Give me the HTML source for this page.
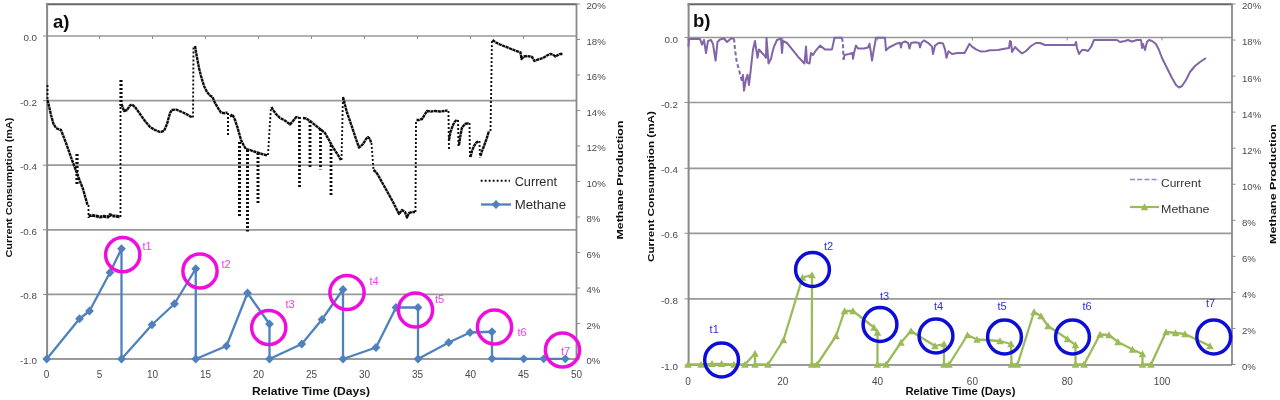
<!DOCTYPE html>
<html>
<head>
<meta charset="utf-8">
<title>Current consumption and methane production</title>
<style>
html, body { margin: 0; padding: 0; background: #ffffff; }
body { width: 1280px; height: 400px; overflow: hidden; font-family: "Liberation Sans", sans-serif; }
svg { display: block; }
svg text { font-family: "Liberation Sans", sans-serif; }
</style>
</head>
<body>
<svg width="1280" height="400" viewBox="0 0 1280 400">
<defs><filter id="soft" x="-2%" y="-2%" width="104%" height="104%"><feGaussianBlur stdDeviation="0.7"/></filter></defs>
<rect x="0" y="0" width="1280" height="400" fill="#ffffff"/>
<g filter="url(#soft)">
<line x1="46.50" y1="36.00" x2="576.50" y2="36.00" stroke="#989898" stroke-width="1.7"/>
<line x1="46.50" y1="100.60" x2="576.50" y2="100.60" stroke="#989898" stroke-width="1.7"/>
<line x1="46.50" y1="165.20" x2="576.50" y2="165.20" stroke="#989898" stroke-width="1.7"/>
<line x1="46.50" y1="229.80" x2="576.50" y2="229.80" stroke="#989898" stroke-width="1.7"/>
<line x1="46.50" y1="294.40" x2="576.50" y2="294.40" stroke="#989898" stroke-width="1.7"/>
<line x1="46.00" y1="4.20" x2="577.00" y2="4.20" stroke="#666" stroke-width="2.0"/>
<line x1="47.10" y1="4.00" x2="47.10" y2="359.00" stroke="#888" stroke-width="2.0"/>
<line x1="576.50" y1="4.00" x2="576.50" y2="359.00" stroke="#888" stroke-width="1.8"/>
<line x1="46.50" y1="359.00" x2="576.50" y2="359.00" stroke="#7a7a7a" stroke-width="1.6"/>
<line x1="46.50" y1="36.00" x2="46.50" y2="39.00" stroke="#8c8c8c" stroke-width="1"/>
<line x1="99.50" y1="36.00" x2="99.50" y2="39.00" stroke="#8c8c8c" stroke-width="1"/>
<line x1="152.50" y1="36.00" x2="152.50" y2="39.00" stroke="#8c8c8c" stroke-width="1"/>
<line x1="205.50" y1="36.00" x2="205.50" y2="39.00" stroke="#8c8c8c" stroke-width="1"/>
<line x1="258.50" y1="36.00" x2="258.50" y2="39.00" stroke="#8c8c8c" stroke-width="1"/>
<line x1="311.50" y1="36.00" x2="311.50" y2="39.00" stroke="#8c8c8c" stroke-width="1"/>
<line x1="364.50" y1="36.00" x2="364.50" y2="39.00" stroke="#8c8c8c" stroke-width="1"/>
<line x1="417.50" y1="36.00" x2="417.50" y2="39.00" stroke="#8c8c8c" stroke-width="1"/>
<line x1="470.50" y1="36.00" x2="470.50" y2="39.00" stroke="#8c8c8c" stroke-width="1"/>
<line x1="523.50" y1="36.00" x2="523.50" y2="39.00" stroke="#8c8c8c" stroke-width="1"/>
<line x1="576.50" y1="36.00" x2="576.50" y2="39.00" stroke="#8c8c8c" stroke-width="1"/>
<line x1="43.00" y1="36.00" x2="46.50" y2="36.00" stroke="#8c8c8c" stroke-width="1"/>
<text x="37.00" y="41.00" font-size="9.8" text-anchor="end" fill="#4a4a4a" font-weight="normal" >0.0</text>
<line x1="43.00" y1="100.60" x2="46.50" y2="100.60" stroke="#8c8c8c" stroke-width="1"/>
<text x="37.00" y="105.60" font-size="9.8" text-anchor="end" fill="#4a4a4a" font-weight="normal" >-0.2</text>
<line x1="43.00" y1="165.20" x2="46.50" y2="165.20" stroke="#8c8c8c" stroke-width="1"/>
<text x="37.00" y="170.20" font-size="9.8" text-anchor="end" fill="#4a4a4a" font-weight="normal" >-0.4</text>
<line x1="43.00" y1="229.80" x2="46.50" y2="229.80" stroke="#8c8c8c" stroke-width="1"/>
<text x="37.00" y="234.80" font-size="9.8" text-anchor="end" fill="#4a4a4a" font-weight="normal" >-0.6</text>
<line x1="43.00" y1="294.40" x2="46.50" y2="294.40" stroke="#8c8c8c" stroke-width="1"/>
<text x="37.00" y="299.40" font-size="9.8" text-anchor="end" fill="#4a4a4a" font-weight="normal" >-0.8</text>
<line x1="43.00" y1="359.00" x2="46.50" y2="359.00" stroke="#8c8c8c" stroke-width="1"/>
<text x="37.00" y="364.00" font-size="9.8" text-anchor="end" fill="#4a4a4a" font-weight="normal" >-1.0</text>
<line x1="576.50" y1="4.00" x2="580.00" y2="4.00" stroke="#8c8c8c" stroke-width="1"/>
<text x="586.50" y="8.80" font-size="9.6" text-anchor="start" fill="#4a4a4a" font-weight="normal" >20%</text>
<line x1="576.50" y1="39.50" x2="580.00" y2="39.50" stroke="#8c8c8c" stroke-width="1"/>
<text x="586.50" y="44.90" font-size="9.6" text-anchor="start" fill="#4a4a4a" font-weight="normal" >18%</text>
<line x1="576.50" y1="75.00" x2="580.00" y2="75.00" stroke="#8c8c8c" stroke-width="1"/>
<text x="586.50" y="80.40" font-size="9.6" text-anchor="start" fill="#4a4a4a" font-weight="normal" >16%</text>
<line x1="576.50" y1="110.50" x2="580.00" y2="110.50" stroke="#8c8c8c" stroke-width="1"/>
<text x="586.50" y="115.90" font-size="9.6" text-anchor="start" fill="#4a4a4a" font-weight="normal" >14%</text>
<line x1="576.50" y1="146.00" x2="580.00" y2="146.00" stroke="#8c8c8c" stroke-width="1"/>
<text x="586.50" y="151.40" font-size="9.6" text-anchor="start" fill="#4a4a4a" font-weight="normal" >12%</text>
<line x1="576.50" y1="181.50" x2="580.00" y2="181.50" stroke="#8c8c8c" stroke-width="1"/>
<text x="586.50" y="186.90" font-size="9.6" text-anchor="start" fill="#4a4a4a" font-weight="normal" >10%</text>
<line x1="576.50" y1="217.00" x2="580.00" y2="217.00" stroke="#8c8c8c" stroke-width="1"/>
<text x="586.50" y="222.40" font-size="9.6" text-anchor="start" fill="#4a4a4a" font-weight="normal" >8%</text>
<line x1="576.50" y1="252.50" x2="580.00" y2="252.50" stroke="#8c8c8c" stroke-width="1"/>
<text x="586.50" y="257.90" font-size="9.6" text-anchor="start" fill="#4a4a4a" font-weight="normal" >6%</text>
<line x1="576.50" y1="288.00" x2="580.00" y2="288.00" stroke="#8c8c8c" stroke-width="1"/>
<text x="586.50" y="293.40" font-size="9.6" text-anchor="start" fill="#4a4a4a" font-weight="normal" >4%</text>
<line x1="576.50" y1="323.50" x2="580.00" y2="323.50" stroke="#8c8c8c" stroke-width="1"/>
<text x="586.50" y="328.90" font-size="9.6" text-anchor="start" fill="#4a4a4a" font-weight="normal" >2%</text>
<line x1="576.50" y1="359.00" x2="580.00" y2="359.00" stroke="#8c8c8c" stroke-width="1"/>
<text x="586.50" y="364.40" font-size="9.6" text-anchor="start" fill="#4a4a4a" font-weight="normal" >0%</text>
<text x="46.50" y="378.00" font-size="10" text-anchor="middle" fill="#4a4a4a" font-weight="normal" >0</text>
<text x="99.50" y="378.00" font-size="10" text-anchor="middle" fill="#4a4a4a" font-weight="normal" >5</text>
<text x="152.50" y="378.00" font-size="10" text-anchor="middle" fill="#4a4a4a" font-weight="normal" >10</text>
<text x="205.50" y="378.00" font-size="10" text-anchor="middle" fill="#4a4a4a" font-weight="normal" >15</text>
<text x="258.50" y="378.00" font-size="10" text-anchor="middle" fill="#4a4a4a" font-weight="normal" >20</text>
<text x="311.50" y="378.00" font-size="10" text-anchor="middle" fill="#4a4a4a" font-weight="normal" >25</text>
<text x="364.50" y="378.00" font-size="10" text-anchor="middle" fill="#4a4a4a" font-weight="normal" >30</text>
<text x="417.50" y="378.00" font-size="10" text-anchor="middle" fill="#4a4a4a" font-weight="normal" >35</text>
<text x="470.50" y="378.00" font-size="10" text-anchor="middle" fill="#4a4a4a" font-weight="normal" >40</text>
<text x="523.50" y="378.00" font-size="10" text-anchor="middle" fill="#4a4a4a" font-weight="normal" >45</text>
<text x="576.50" y="378.00" font-size="10" text-anchor="middle" fill="#4a4a4a" font-weight="normal" >50</text>
<text x="311.00" y="395.00" font-size="11" text-anchor="middle" fill="#111" font-weight="bold" textLength="118" lengthAdjust="spacingAndGlyphs">Relative Time (Days)</text>
<text transform="translate(11.5,187.5) rotate(-90)" font-size="9.6" text-anchor="middle" fill="#111" font-weight="bold" textLength="140" lengthAdjust="spacingAndGlyphs">Current Consumption (mA)</text>
<text transform="translate(623.0,180) rotate(-90)" font-size="9.6" text-anchor="middle" fill="#111" font-weight="bold" textLength="119" lengthAdjust="spacingAndGlyphs">Methane Production</text>
<text x="53.00" y="27.60" font-size="18.5" text-anchor="start" fill="#111" font-weight="bold" >a)</text>
<polyline points="47.50,85.00 47.50,101.00" fill="none" stroke="#111" stroke-width="1.9" stroke-dasharray="1.9 2.1"/>
<polyline points="47.50,100.00 49.00,106.00 51.00,115.00 53.50,124.00 56.00,128.00 58.00,129.00 61.00,130.00 66.00,143.00 72.00,160.00 78.00,176.00 83.00,189.00 87.50,205.00" fill="none" stroke="#111" stroke-width="2.4" stroke-dasharray="3.2 0.5" stroke-linejoin="round"/>
<polyline points="88.50,205.00 88.50,218.00" fill="none" stroke="#111" stroke-width="1.9" stroke-dasharray="1.9 2.1"/>
<polyline points="77.00,154.00 77.00,184.00" fill="none" stroke="#111" stroke-width="3.2" stroke-dasharray="1.9 2.1"/>
<polyline points="88.50,216.00 92.00,215.30 96.00,216.00 100.00,217.00 104.00,216.30 108.00,217.00 110.00,214.50 112.00,216.00 116.00,216.00 120.00,217.00" fill="none" stroke="#111" stroke-width="3.0" stroke-dasharray="3.2 0.5" stroke-linejoin="round"/>
<polyline points="120.50,217.00 120.50,104.00" fill="none" stroke="#111" stroke-width="1.9" stroke-dasharray="1.9 2.1"/>
<polyline points="121.00,106.00 121.00,78.00" fill="none" stroke="#111" stroke-width="3.2" stroke-dasharray="1.9 2.1"/>
<polyline points="121.50,104.00 124.00,111.00 127.00,110.00 130.00,105.50 132.00,104.50 135.00,107.00 140.00,114.00 145.00,121.00 150.00,127.00 155.00,130.00 160.00,132.00 164.00,131.00 167.00,124.00 170.00,113.00 172.00,110.00 176.00,109.50 182.00,112.00 188.00,115.00 192.00,117.50" fill="none" stroke="#111" stroke-width="2.4" stroke-dasharray="3.2 0.5" stroke-linejoin="round"/>
<polyline points="193.00,117.50 193.50,46.00" fill="none" stroke="#111" stroke-width="1.9" stroke-dasharray="1.9 2.1"/>
<polyline points="195.00,46.00 196.00,52.00 197.50,60.00 199.00,68.00 201.00,76.00 204.00,86.00 207.00,92.00 210.00,95.50 212.50,97.00 215.00,103.00 218.00,108.00 221.00,112.50 224.00,113.20 227.50,112.50" fill="none" stroke="#111" stroke-width="2.4" stroke-dasharray="3.2 0.5" stroke-linejoin="round"/>
<polyline points="228.00,113.00 228.00,135.00" fill="none" stroke="#111" stroke-width="2.0" stroke-dasharray="1.9 2.1"/>
<polyline points="230.00,116.50 232.50,114.50 235.00,120.00 237.50,127.50 241.00,140.00 244.00,146.00 246.00,149.00 250.00,150.00 254.00,151.50 257.50,152.50 262.00,154.00 267.50,155.50" fill="none" stroke="#111" stroke-width="2.4" stroke-dasharray="3.2 0.5" stroke-linejoin="round"/>
<polyline points="239.50,142.00 239.50,217.50" fill="none" stroke="#111" stroke-width="3.0" stroke-dasharray="1.9 2.1"/>
<polyline points="247.50,150.00 247.50,231.50" fill="none" stroke="#111" stroke-width="3.0" stroke-dasharray="1.9 2.1"/>
<polyline points="258.00,153.00 258.00,204.50" fill="none" stroke="#111" stroke-width="3.0" stroke-dasharray="1.9 2.1"/>
<polyline points="268.00,155.00 271.00,107.00" fill="none" stroke="#111" stroke-width="1.9" stroke-dasharray="1.9 2.1"/>
<polyline points="271.50,107.00 273.00,110.00 276.00,114.00 280.00,118.00 284.00,120.00 287.00,122.00 290.00,124.50 293.00,121.00 296.00,117.30 298.50,117.00" fill="none" stroke="#111" stroke-width="2.4" stroke-dasharray="3.2 0.5" stroke-linejoin="round"/>
<polyline points="299.50,117.00 299.50,187.00" fill="none" stroke="#111" stroke-width="2.8" stroke-dasharray="1.9 2.1"/>
<polyline points="303.00,118.00 306.00,118.50 310.00,121.00 315.00,125.00 320.00,129.00 325.00,133.00 329.00,140.00 333.00,147.50 337.00,153.50 341.00,160.00" fill="none" stroke="#111" stroke-width="2.4" stroke-dasharray="3.2 0.5" stroke-linejoin="round"/>
<polyline points="310.00,121.00 310.00,167.00" fill="none" stroke="#111" stroke-width="2.8" stroke-dasharray="1.9 2.1"/>
<polyline points="320.50,129.00 320.50,169.50" fill="none" stroke="#111" stroke-width="2.8" stroke-dasharray="1.9 2.1"/>
<polyline points="331.00,145.00 331.00,195.00" fill="none" stroke="#111" stroke-width="2.8" stroke-dasharray="1.9 2.1"/>
<polyline points="341.50,160.00 343.00,97.00" fill="none" stroke="#111" stroke-width="1.9" stroke-dasharray="1.9 2.1"/>
<polyline points="343.00,97.00 345.00,105.00 347.00,112.50 350.00,121.00 353.00,130.00 356.00,139.00 359.00,147.50 361.00,146.00 363.00,144.00 366.00,139.00 368.00,137.00 370.00,139.00 371.00,142.50" fill="none" stroke="#111" stroke-width="2.4" stroke-dasharray="3.2 0.5" stroke-linejoin="round"/>
<polyline points="371.50,143.00 373.50,170.00" fill="none" stroke="#111" stroke-width="1.9" stroke-dasharray="1.9 2.1"/>
<polyline points="373.50,170.00 376.00,172.00 378.00,175.00 383.00,184.00 388.00,193.00 393.00,202.00 397.00,210.00 399.00,214.00 402.00,210.00 405.00,212.00 407.00,217.50 409.00,213.00 412.00,212.00 415.00,212.00" fill="none" stroke="#111" stroke-width="2.4" stroke-dasharray="3.2 0.5" stroke-linejoin="round"/>
<polyline points="415.50,212.00 416.00,120.00" fill="none" stroke="#111" stroke-width="1.9" stroke-dasharray="1.9 2.1"/>
<polyline points="416.50,120.00 419.00,120.00 422.00,119.00 424.50,115.00 427.00,111.00 431.00,111.50 435.00,111.00 440.00,111.50 444.00,111.00 447.50,110.50" fill="none" stroke="#111" stroke-width="2.4" stroke-dasharray="3.2 0.5" stroke-linejoin="round"/>
<polyline points="448.50,111.00 449.00,151.00" fill="none" stroke="#111" stroke-width="1.9" stroke-dasharray="1.9 2.1"/>
<polyline points="449.00,140.00 450.50,132.00 453.00,125.00 455.00,121.50 457.00,119.50" fill="none" stroke="#111" stroke-width="2.4" stroke-dasharray="3.2 0.5" stroke-linejoin="round"/>
<polyline points="458.00,120.00 458.50,146.00" fill="none" stroke="#111" stroke-width="1.9" stroke-dasharray="1.9 2.1"/>
<polyline points="459.00,145.00 460.50,135.00 462.00,127.50 465.00,124.00 469.00,123.00" fill="none" stroke="#111" stroke-width="2.4" stroke-dasharray="3.2 0.5" stroke-linejoin="round"/>
<polyline points="469.50,123.00 470.00,159.00" fill="none" stroke="#111" stroke-width="1.9" stroke-dasharray="1.9 2.1"/>
<polyline points="470.50,157.00 472.00,151.00 474.00,146.00 476.00,143.00 478.50,141.00" fill="none" stroke="#111" stroke-width="2.4" stroke-dasharray="3.2 0.5" stroke-linejoin="round"/>
<polyline points="479.50,141.00 480.00,157.50" fill="none" stroke="#111" stroke-width="1.9" stroke-dasharray="1.9 2.1"/>
<polyline points="480.50,156.00 482.00,151.00 484.00,146.00 486.50,139.00 489.00,131.00" fill="none" stroke="#111" stroke-width="2.4" stroke-dasharray="3.2 0.5" stroke-linejoin="round"/>
<polyline points="490.50,131.00 492.00,40.00" fill="none" stroke="#111" stroke-width="1.9" stroke-dasharray="1.9 2.1"/>
<polyline points="492.50,40.00 496.00,42.50 500.00,44.50 505.00,46.50 510.00,48.50 515.00,50.50 520.50,52.50 521.50,59.00 524.00,56.50 527.00,56.00 530.00,56.50 532.00,57.00 534.50,61.00 538.00,59.50 543.00,58.00 547.00,55.50 550.00,54.00 553.00,54.50 555.50,56.50 558.00,55.00 560.00,54.00 563.00,54.00" fill="none" stroke="#111" stroke-width="2.4" stroke-dasharray="3.2 0.5" stroke-linejoin="round"/>
<polyline points="46.75,359.00 79.50,318.75 89.50,311.00 110.00,272.50 121.50,248.75 121.50,359.00 152.00,324.75 174.50,303.75 195.75,268.75 195.75,359.00 226.50,346.00 247.50,293.00 269.50,324.00 269.50,359.00 301.75,344.00 322.00,319.50 343.00,289.50 343.00,359.00 376.00,347.50 396.00,307.50 418.00,307.50 418.00,359.00 448.75,342.50 470.00,332.50 492.00,331.75 492.00,358.60 523.75,358.80 543.75,358.80 565.30,358.80" fill="none" stroke="#4f81bd" stroke-width="2.3" stroke-linejoin="round"/>
<path d="M42.35,359.00 L46.75,354.60 L51.15,359.00 L46.75,363.40 Z" fill="#4f81bd"/>
<path d="M75.10,318.75 L79.50,314.35 L83.90,318.75 L79.50,323.15 Z" fill="#4f81bd"/>
<path d="M85.10,311.00 L89.50,306.60 L93.90,311.00 L89.50,315.40 Z" fill="#4f81bd"/>
<path d="M105.60,272.50 L110.00,268.10 L114.40,272.50 L110.00,276.90 Z" fill="#4f81bd"/>
<path d="M117.10,248.75 L121.50,244.35 L125.90,248.75 L121.50,253.15 Z" fill="#4f81bd"/>
<path d="M117.10,359.00 L121.50,354.60 L125.90,359.00 L121.50,363.40 Z" fill="#4f81bd"/>
<path d="M147.60,324.75 L152.00,320.35 L156.40,324.75 L152.00,329.15 Z" fill="#4f81bd"/>
<path d="M170.10,303.75 L174.50,299.35 L178.90,303.75 L174.50,308.15 Z" fill="#4f81bd"/>
<path d="M191.35,268.75 L195.75,264.35 L200.15,268.75 L195.75,273.15 Z" fill="#4f81bd"/>
<path d="M191.35,359.00 L195.75,354.60 L200.15,359.00 L195.75,363.40 Z" fill="#4f81bd"/>
<path d="M222.10,346.00 L226.50,341.60 L230.90,346.00 L226.50,350.40 Z" fill="#4f81bd"/>
<path d="M243.10,293.00 L247.50,288.60 L251.90,293.00 L247.50,297.40 Z" fill="#4f81bd"/>
<path d="M265.10,324.00 L269.50,319.60 L273.90,324.00 L269.50,328.40 Z" fill="#4f81bd"/>
<path d="M265.10,359.00 L269.50,354.60 L273.90,359.00 L269.50,363.40 Z" fill="#4f81bd"/>
<path d="M297.35,344.00 L301.75,339.60 L306.15,344.00 L301.75,348.40 Z" fill="#4f81bd"/>
<path d="M317.60,319.50 L322.00,315.10 L326.40,319.50 L322.00,323.90 Z" fill="#4f81bd"/>
<path d="M338.60,289.50 L343.00,285.10 L347.40,289.50 L343.00,293.90 Z" fill="#4f81bd"/>
<path d="M338.60,359.00 L343.00,354.60 L347.40,359.00 L343.00,363.40 Z" fill="#4f81bd"/>
<path d="M371.60,347.50 L376.00,343.10 L380.40,347.50 L376.00,351.90 Z" fill="#4f81bd"/>
<path d="M391.60,307.50 L396.00,303.10 L400.40,307.50 L396.00,311.90 Z" fill="#4f81bd"/>
<path d="M413.60,307.50 L418.00,303.10 L422.40,307.50 L418.00,311.90 Z" fill="#4f81bd"/>
<path d="M413.60,359.00 L418.00,354.60 L422.40,359.00 L418.00,363.40 Z" fill="#4f81bd"/>
<path d="M444.35,342.50 L448.75,338.10 L453.15,342.50 L448.75,346.90 Z" fill="#4f81bd"/>
<path d="M465.60,332.50 L470.00,328.10 L474.40,332.50 L470.00,336.90 Z" fill="#4f81bd"/>
<path d="M487.60,331.75 L492.00,327.35 L496.40,331.75 L492.00,336.15 Z" fill="#4f81bd"/>
<path d="M487.60,358.60 L492.00,354.20 L496.40,358.60 L492.00,363.00 Z" fill="#4f81bd"/>
<path d="M519.35,358.80 L523.75,354.40 L528.15,358.80 L523.75,363.20 Z" fill="#4f81bd"/>
<path d="M539.35,358.80 L543.75,354.40 L548.15,358.80 L543.75,363.20 Z" fill="#4f81bd"/>
<path d="M560.90,358.80 L565.30,354.40 L569.70,358.80 L565.30,363.20 Z" fill="#4f81bd"/>
<line x1="480.70" y1="180.80" x2="510.00" y2="180.80" stroke="#111" stroke-width="1.9" stroke-dasharray="1.9 2.1"/>
<text x="514.70" y="185.80" font-size="12" text-anchor="start" fill="#2a2a2a" font-weight="normal" textLength="42.3" lengthAdjust="spacingAndGlyphs">Current</text>
<line x1="481.00" y1="204.50" x2="511.00" y2="204.50" stroke="#4f81bd" stroke-width="2.3"/>
<path d="M491.6,204.5 L496,200.1 L500.4,204.5 L496,208.9 Z" fill="#4f81bd"/>
<text x="514.70" y="209.30" font-size="12" text-anchor="start" fill="#2a2a2a" font-weight="normal" textLength="51.3" lengthAdjust="spacingAndGlyphs">Methane</text>
<circle cx="122.75" cy="254.7" r="17.1" fill="none" stroke="#ee11dd" stroke-width="3.5"/>
<text x="142.50" y="250.00" font-size="11" text-anchor="start" fill="#f040e8" font-weight="normal" >t1</text>
<circle cx="200" cy="271" r="17.1" fill="none" stroke="#ee11dd" stroke-width="3.5"/>
<text x="221.50" y="267.50" font-size="11" text-anchor="start" fill="#f040e8" font-weight="normal" >t2</text>
<circle cx="268.75" cy="327.5" r="17.1" fill="none" stroke="#ee11dd" stroke-width="3.5"/>
<text x="285.50" y="307.50" font-size="11" text-anchor="start" fill="#f040e8" font-weight="normal" >t3</text>
<circle cx="347" cy="292.5" r="17.1" fill="none" stroke="#ee11dd" stroke-width="3.5"/>
<text x="369.50" y="285.00" font-size="11" text-anchor="start" fill="#f040e8" font-weight="normal" >t4</text>
<circle cx="415.5" cy="310" r="17.1" fill="none" stroke="#ee11dd" stroke-width="3.5"/>
<text x="435.00" y="302.50" font-size="11" text-anchor="start" fill="#f040e8" font-weight="normal" >t5</text>
<circle cx="494.5" cy="327" r="17.1" fill="none" stroke="#ee11dd" stroke-width="3.5"/>
<text x="517.50" y="336.00" font-size="11" text-anchor="start" fill="#f040e8" font-weight="normal" >t6</text>
<circle cx="562.5" cy="350" r="17.1" fill="none" stroke="#ee11dd" stroke-width="3.5"/>
<text x="561.00" y="354.50" font-size="11" text-anchor="start" fill="#f040e8" font-weight="normal" >t7</text>
<line x1="688.00" y1="37.50" x2="1232.00" y2="37.50" stroke="#989898" stroke-width="1.7"/>
<line x1="688.00" y1="102.50" x2="1232.00" y2="102.50" stroke="#989898" stroke-width="1.7"/>
<line x1="688.00" y1="168.30" x2="1232.00" y2="168.30" stroke="#989898" stroke-width="1.7"/>
<line x1="688.00" y1="233.30" x2="1232.00" y2="233.30" stroke="#989898" stroke-width="1.7"/>
<line x1="688.00" y1="298.90" x2="1232.00" y2="298.90" stroke="#989898" stroke-width="1.7"/>
<line x1="687.50" y1="4.20" x2="1232.50" y2="4.20" stroke="#666" stroke-width="2.0"/>
<line x1="688.60" y1="4.00" x2="688.60" y2="365.00" stroke="#888" stroke-width="2.0"/>
<line x1="1232.00" y1="4.00" x2="1232.00" y2="365.00" stroke="#888" stroke-width="1.8"/>
<line x1="688.00" y1="365.00" x2="1232.00" y2="365.00" stroke="#7a7a7a" stroke-width="1.6"/>
<line x1="688.00" y1="37.50" x2="688.00" y2="40.50" stroke="#8c8c8c" stroke-width="1"/>
<line x1="782.80" y1="37.50" x2="782.80" y2="40.50" stroke="#8c8c8c" stroke-width="1"/>
<line x1="877.60" y1="37.50" x2="877.60" y2="40.50" stroke="#8c8c8c" stroke-width="1"/>
<line x1="972.40" y1="37.50" x2="972.40" y2="40.50" stroke="#8c8c8c" stroke-width="1"/>
<line x1="1067.20" y1="37.50" x2="1067.20" y2="40.50" stroke="#8c8c8c" stroke-width="1"/>
<line x1="1162.00" y1="37.50" x2="1162.00" y2="40.50" stroke="#8c8c8c" stroke-width="1"/>
<line x1="684.50" y1="37.50" x2="688.00" y2="37.50" stroke="#8c8c8c" stroke-width="1"/>
<text x="678.00" y="42.50" font-size="9.8" text-anchor="end" fill="#4a4a4a" font-weight="normal" >0.0</text>
<line x1="684.50" y1="102.50" x2="688.00" y2="102.50" stroke="#8c8c8c" stroke-width="1"/>
<text x="678.00" y="107.50" font-size="9.8" text-anchor="end" fill="#4a4a4a" font-weight="normal" >-0.2</text>
<line x1="684.50" y1="168.30" x2="688.00" y2="168.30" stroke="#8c8c8c" stroke-width="1"/>
<text x="678.00" y="173.30" font-size="9.8" text-anchor="end" fill="#4a4a4a" font-weight="normal" >-0.4</text>
<line x1="684.50" y1="233.30" x2="688.00" y2="233.30" stroke="#8c8c8c" stroke-width="1"/>
<text x="678.00" y="238.30" font-size="9.8" text-anchor="end" fill="#4a4a4a" font-weight="normal" >-0.6</text>
<line x1="684.50" y1="298.90" x2="688.00" y2="298.90" stroke="#8c8c8c" stroke-width="1"/>
<text x="678.00" y="303.90" font-size="9.8" text-anchor="end" fill="#4a4a4a" font-weight="normal" >-0.8</text>
<line x1="684.50" y1="365.00" x2="688.00" y2="365.00" stroke="#8c8c8c" stroke-width="1"/>
<text x="678.00" y="370.00" font-size="9.8" text-anchor="end" fill="#4a4a4a" font-weight="normal" >-1.0</text>
<line x1="1232.00" y1="4.00" x2="1235.50" y2="4.00" stroke="#8c8c8c" stroke-width="1"/>
<text x="1242.00" y="8.80" font-size="9.6" text-anchor="start" fill="#4a4a4a" font-weight="normal" >20%</text>
<line x1="1232.00" y1="40.05" x2="1235.50" y2="40.05" stroke="#8c8c8c" stroke-width="1"/>
<text x="1242.00" y="45.45" font-size="9.6" text-anchor="start" fill="#4a4a4a" font-weight="normal" >18%</text>
<line x1="1232.00" y1="76.10" x2="1235.50" y2="76.10" stroke="#8c8c8c" stroke-width="1"/>
<text x="1242.00" y="81.50" font-size="9.6" text-anchor="start" fill="#4a4a4a" font-weight="normal" >16%</text>
<line x1="1232.00" y1="112.15" x2="1235.50" y2="112.15" stroke="#8c8c8c" stroke-width="1"/>
<text x="1242.00" y="117.55" font-size="9.6" text-anchor="start" fill="#4a4a4a" font-weight="normal" >14%</text>
<line x1="1232.00" y1="148.20" x2="1235.50" y2="148.20" stroke="#8c8c8c" stroke-width="1"/>
<text x="1242.00" y="153.60" font-size="9.6" text-anchor="start" fill="#4a4a4a" font-weight="normal" >12%</text>
<line x1="1232.00" y1="184.25" x2="1235.50" y2="184.25" stroke="#8c8c8c" stroke-width="1"/>
<text x="1242.00" y="189.65" font-size="9.6" text-anchor="start" fill="#4a4a4a" font-weight="normal" >10%</text>
<line x1="1232.00" y1="220.30" x2="1235.50" y2="220.30" stroke="#8c8c8c" stroke-width="1"/>
<text x="1242.00" y="225.70" font-size="9.6" text-anchor="start" fill="#4a4a4a" font-weight="normal" >8%</text>
<line x1="1232.00" y1="256.35" x2="1235.50" y2="256.35" stroke="#8c8c8c" stroke-width="1"/>
<text x="1242.00" y="261.75" font-size="9.6" text-anchor="start" fill="#4a4a4a" font-weight="normal" >6%</text>
<line x1="1232.00" y1="292.40" x2="1235.50" y2="292.40" stroke="#8c8c8c" stroke-width="1"/>
<text x="1242.00" y="297.80" font-size="9.6" text-anchor="start" fill="#4a4a4a" font-weight="normal" >4%</text>
<line x1="1232.00" y1="328.45" x2="1235.50" y2="328.45" stroke="#8c8c8c" stroke-width="1"/>
<text x="1242.00" y="333.85" font-size="9.6" text-anchor="start" fill="#4a4a4a" font-weight="normal" >2%</text>
<line x1="1232.00" y1="364.50" x2="1235.50" y2="364.50" stroke="#8c8c8c" stroke-width="1"/>
<text x="1242.00" y="369.90" font-size="9.6" text-anchor="start" fill="#4a4a4a" font-weight="normal" >0%</text>
<text x="688.00" y="384.50" font-size="10" text-anchor="middle" fill="#4a4a4a" font-weight="normal" >0</text>
<text x="782.80" y="384.50" font-size="10" text-anchor="middle" fill="#4a4a4a" font-weight="normal" >20</text>
<text x="877.60" y="384.50" font-size="10" text-anchor="middle" fill="#4a4a4a" font-weight="normal" >40</text>
<text x="972.40" y="384.50" font-size="10" text-anchor="middle" fill="#4a4a4a" font-weight="normal" >60</text>
<text x="1067.20" y="384.50" font-size="10" text-anchor="middle" fill="#4a4a4a" font-weight="normal" >80</text>
<text x="1162.00" y="384.50" font-size="10" text-anchor="middle" fill="#4a4a4a" font-weight="normal" >100</text>
<text x="960.40" y="394.80" font-size="10.5" text-anchor="middle" fill="#111" font-weight="bold" textLength="110" lengthAdjust="spacingAndGlyphs">Relative Time (Days)</text>
<text transform="translate(653.5,186.5) rotate(-90)" font-size="9.6" text-anchor="middle" fill="#111" font-weight="bold" textLength="151" lengthAdjust="spacingAndGlyphs">Current Consumption (mA)</text>
<text transform="translate(1275.8,184) rotate(-90)" font-size="9.6" text-anchor="middle" fill="#111" font-weight="bold" textLength="120" lengthAdjust="spacingAndGlyphs">Methane Production</text>
<text x="693.00" y="27.20" font-size="18.5" text-anchor="start" fill="#111" font-weight="bold" >b)</text>
<polyline points="688.40,46.60 689.00,39.00 700.00,39.00 702.00,44.70 704.00,40.00 706.00,53.00 708.00,41.00 711.00,40.00 713.00,44.00 715.60,60.60 717.50,42.00 720.00,39.50 724.00,38.50 727.00,42.00 731.00,38.50 734.00,38.50" fill="none" stroke="#8165a6" stroke-width="2.0" stroke-linejoin="round"/>
<polyline points="742.00,81.00 743.00,75.00 744.00,90.70 746.00,79.40 747.50,74.70 749.00,85.00 750.50,72.00 753.00,49.40 755.00,41.00 757.50,57.80 759.00,49.40 762.00,53.00 764.00,55.00 766.00,57.80 766.50,38.00 767.50,50.00 768.50,63.50 771.00,58.80 772.00,54.00 774.00,46.60 777.00,40.00 781.00,38.50 782.00,53.00 783.00,41.00 787.00,43.00 793.00,50.30 799.00,57.80 804.50,63.50 806.00,46.60 807.00,62.50 809.50,63.50 811.00,53.00 813.00,55.00 816.00,50.30 820.00,45.60 825.00,49.40 832.00,49.40 834.50,37.80 842.00,37.80" fill="none" stroke="#8165a6" stroke-width="2.0" stroke-linejoin="round"/>
<polyline points="843.50,59.70 844.50,55.00 849.00,54.00 852.50,53.00 853.00,58.80 854.00,53.00 856.00,45.60 858.00,48.50 864.00,48.50 868.00,47.50 869.50,43.80 871.00,53.00 872.00,60.60 873.50,51.30 876.00,37.80 885.00,37.80 886.00,50.30 889.00,47.50 896.00,43.80 900.00,42.80 901.00,47.50 902.00,42.80 905.00,41.50 908.00,42.80 909.50,48.50 911.00,43.00 915.00,42.30 919.00,43.00 920.00,47.50 921.50,42.80 924.00,40.40 928.00,42.80 932.00,46.60 933.00,54.00 935.00,45.60 939.00,42.80 943.00,43.40 945.00,49.40 946.50,57.80 948.50,51.30 952.00,54.00 957.50,53.00 964.50,53.00 967.00,48.50 969.50,43.80 972.00,46.60 976.00,49.40 981.00,51.60 986.00,51.30 990.00,50.30 998.00,50.00 1003.00,49.00 1009.00,48.00 1010.00,41.00 1011.00,42.00 1012.00,52.00 1015.00,47.00 1018.00,50.00 1022.00,53.50 1026.00,51.00 1031.00,46.00 1036.00,43.00 1040.00,43.00 1045.00,45.00 1075.00,45.00 1076.00,42.00 1077.00,48.00 1079.00,54.00 1082.00,50.00 1085.00,50.00 1088.00,51.00 1091.00,47.00 1094.00,40.00 1100.00,40.00 1117.00,40.00 1120.00,42.00 1125.00,41.00 1128.00,40.00 1132.00,41.50 1137.00,40.00 1141.00,40.00 1142.00,48.00 1143.00,44.00 1145.00,50.00 1147.00,42.00 1149.00,40.00 1152.00,41.00 1156.00,44.00 1159.00,50.00 1162.00,58.00 1167.00,68.00 1172.00,78.00 1176.00,85.00 1179.00,87.50 1182.00,86.00 1186.00,80.00 1190.00,72.00 1195.00,66.00 1200.00,62.00 1206.00,58.00" fill="none" stroke="#8165a6" stroke-width="2.0" stroke-linejoin="round"/>
<polyline points="734.00,38.50 735.00,49.40 736.50,60.60 739.00,70.00 741.00,77.50 742.00,81.00" fill="none" stroke="#8165a6" stroke-width="2.0" stroke-dasharray="4 2.5"/>
<polyline points="842.00,37.80 843.00,43.80 843.50,59.70" fill="none" stroke="#8165a6" stroke-width="2.0" stroke-dasharray="4 2.5"/>
<polyline points="688.00,364.50 701.00,364.50 712.00,363.80 721.60,363.80 734.00,364.50 745.00,364.50 755.00,353.50 755.00,364.50 768.00,364.50 783.50,340.00 802.50,277.50 812.00,275.00 811.80,364.50 817.00,364.50 836.00,336.00 844.50,311.00 853.00,311.00 874.00,327.50 877.50,332.50 877.50,364.50 886.00,364.50 901.00,342.50 911.00,331.00 935.00,346.00 944.00,344.00 944.00,364.50 949.00,364.50 967.50,335.00 977.00,339.50 1000.00,341.00 1011.00,344.00 1011.50,364.50 1017.50,364.50 1034.00,312.00 1041.00,316.00 1048.00,326.00 1067.50,339.00 1075.50,345.00 1075.50,364.50 1084.00,364.50 1100.00,334.50 1109.00,335.00 1118.00,342.00 1132.50,349.50 1142.50,354.00 1142.50,364.50 1151.00,364.50 1166.00,332.00 1175.50,333.00 1185.00,334.00 1210.00,346.00" fill="none" stroke="#9bbb59" stroke-width="2.3" stroke-linejoin="round"/>
<path d="M684.20,367.70 L688.00,360.70 L691.80,367.70 Z" fill="#9bbb59"/>
<path d="M697.20,367.70 L701.00,360.70 L704.80,367.70 Z" fill="#9bbb59"/>
<path d="M708.20,367.00 L712.00,360.00 L715.80,367.00 Z" fill="#9bbb59"/>
<path d="M717.80,367.00 L721.60,360.00 L725.40,367.00 Z" fill="#9bbb59"/>
<path d="M730.20,367.70 L734.00,360.70 L737.80,367.70 Z" fill="#9bbb59"/>
<path d="M741.20,367.70 L745.00,360.70 L748.80,367.70 Z" fill="#9bbb59"/>
<path d="M751.20,356.70 L755.00,349.70 L758.80,356.70 Z" fill="#9bbb59"/>
<path d="M751.20,367.70 L755.00,360.70 L758.80,367.70 Z" fill="#9bbb59"/>
<path d="M764.20,367.70 L768.00,360.70 L771.80,367.70 Z" fill="#9bbb59"/>
<path d="M779.70,343.20 L783.50,336.20 L787.30,343.20 Z" fill="#9bbb59"/>
<path d="M798.70,280.70 L802.50,273.70 L806.30,280.70 Z" fill="#9bbb59"/>
<path d="M808.20,278.20 L812.00,271.20 L815.80,278.20 Z" fill="#9bbb59"/>
<path d="M808.00,367.70 L811.80,360.70 L815.60,367.70 Z" fill="#9bbb59"/>
<path d="M813.20,367.70 L817.00,360.70 L820.80,367.70 Z" fill="#9bbb59"/>
<path d="M832.20,339.20 L836.00,332.20 L839.80,339.20 Z" fill="#9bbb59"/>
<path d="M840.70,314.20 L844.50,307.20 L848.30,314.20 Z" fill="#9bbb59"/>
<path d="M849.20,314.20 L853.00,307.20 L856.80,314.20 Z" fill="#9bbb59"/>
<path d="M870.20,330.70 L874.00,323.70 L877.80,330.70 Z" fill="#9bbb59"/>
<path d="M873.70,335.70 L877.50,328.70 L881.30,335.70 Z" fill="#9bbb59"/>
<path d="M873.70,367.70 L877.50,360.70 L881.30,367.70 Z" fill="#9bbb59"/>
<path d="M882.20,367.70 L886.00,360.70 L889.80,367.70 Z" fill="#9bbb59"/>
<path d="M897.20,345.70 L901.00,338.70 L904.80,345.70 Z" fill="#9bbb59"/>
<path d="M907.20,334.20 L911.00,327.20 L914.80,334.20 Z" fill="#9bbb59"/>
<path d="M931.20,349.20 L935.00,342.20 L938.80,349.20 Z" fill="#9bbb59"/>
<path d="M940.20,347.20 L944.00,340.20 L947.80,347.20 Z" fill="#9bbb59"/>
<path d="M940.20,367.70 L944.00,360.70 L947.80,367.70 Z" fill="#9bbb59"/>
<path d="M945.20,367.70 L949.00,360.70 L952.80,367.70 Z" fill="#9bbb59"/>
<path d="M963.70,338.20 L967.50,331.20 L971.30,338.20 Z" fill="#9bbb59"/>
<path d="M973.20,342.70 L977.00,335.70 L980.80,342.70 Z" fill="#9bbb59"/>
<path d="M996.20,344.20 L1000.00,337.20 L1003.80,344.20 Z" fill="#9bbb59"/>
<path d="M1007.20,347.20 L1011.00,340.20 L1014.80,347.20 Z" fill="#9bbb59"/>
<path d="M1007.70,367.70 L1011.50,360.70 L1015.30,367.70 Z" fill="#9bbb59"/>
<path d="M1013.70,367.70 L1017.50,360.70 L1021.30,367.70 Z" fill="#9bbb59"/>
<path d="M1030.20,315.20 L1034.00,308.20 L1037.80,315.20 Z" fill="#9bbb59"/>
<path d="M1037.20,319.20 L1041.00,312.20 L1044.80,319.20 Z" fill="#9bbb59"/>
<path d="M1044.20,329.20 L1048.00,322.20 L1051.80,329.20 Z" fill="#9bbb59"/>
<path d="M1063.70,342.20 L1067.50,335.20 L1071.30,342.20 Z" fill="#9bbb59"/>
<path d="M1071.70,348.20 L1075.50,341.20 L1079.30,348.20 Z" fill="#9bbb59"/>
<path d="M1071.70,367.70 L1075.50,360.70 L1079.30,367.70 Z" fill="#9bbb59"/>
<path d="M1080.20,367.70 L1084.00,360.70 L1087.80,367.70 Z" fill="#9bbb59"/>
<path d="M1096.20,337.70 L1100.00,330.70 L1103.80,337.70 Z" fill="#9bbb59"/>
<path d="M1105.20,338.20 L1109.00,331.20 L1112.80,338.20 Z" fill="#9bbb59"/>
<path d="M1114.20,345.20 L1118.00,338.20 L1121.80,345.20 Z" fill="#9bbb59"/>
<path d="M1128.70,352.70 L1132.50,345.70 L1136.30,352.70 Z" fill="#9bbb59"/>
<path d="M1138.70,357.20 L1142.50,350.20 L1146.30,357.20 Z" fill="#9bbb59"/>
<path d="M1138.70,367.70 L1142.50,360.70 L1146.30,367.70 Z" fill="#9bbb59"/>
<path d="M1147.20,367.70 L1151.00,360.70 L1154.80,367.70 Z" fill="#9bbb59"/>
<path d="M1162.20,335.20 L1166.00,328.20 L1169.80,335.20 Z" fill="#9bbb59"/>
<path d="M1171.70,336.20 L1175.50,329.20 L1179.30,336.20 Z" fill="#9bbb59"/>
<path d="M1181.20,337.20 L1185.00,330.20 L1188.80,337.20 Z" fill="#9bbb59"/>
<path d="M1206.20,349.20 L1210.00,342.20 L1213.80,349.20 Z" fill="#9bbb59"/>
<line x1="1130.00" y1="179.50" x2="1159.00" y2="179.50" stroke="#9a86c0" stroke-width="1.4" stroke-dasharray="5 2.2"/>
<text x="1161.00" y="187.00" font-size="11.5" text-anchor="start" fill="#333" font-weight="normal" textLength="40" lengthAdjust="spacingAndGlyphs">Current</text>
<line x1="1130.00" y1="207.00" x2="1159.00" y2="207.00" stroke="#9bbb59" stroke-width="2.2"/>
<path d="M1140.7,210.2 L1144.5,203.2 L1148.3,210.2 Z" fill="#9bbb59"/>
<text x="1161.00" y="213.00" font-size="11.5" text-anchor="start" fill="#333" font-weight="normal" textLength="48.5" lengthAdjust="spacingAndGlyphs">Methane</text>
<circle cx="721.6" cy="360" r="16.9" fill="none" stroke="#1010d8" stroke-width="3.5"/>
<text x="709.60" y="332.80" font-size="11" text-anchor="start" fill="#3030dd" font-weight="normal" >t1</text>
<circle cx="812.5" cy="269.5" r="16.9" fill="none" stroke="#1010d8" stroke-width="3.5"/>
<text x="824.00" y="249.70" font-size="11" text-anchor="start" fill="#3030dd" font-weight="normal" >t2</text>
<circle cx="880" cy="324.5" r="16.9" fill="none" stroke="#1010d8" stroke-width="3.5"/>
<text x="880.00" y="299.70" font-size="11" text-anchor="start" fill="#3030dd" font-weight="normal" >t3</text>
<circle cx="936" cy="336" r="16.9" fill="none" stroke="#1010d8" stroke-width="3.5"/>
<text x="934.00" y="309.70" font-size="11" text-anchor="start" fill="#3030dd" font-weight="normal" >t4</text>
<circle cx="1004.5" cy="337" r="16.9" fill="none" stroke="#1010d8" stroke-width="3.5"/>
<text x="997.50" y="310.20" font-size="11" text-anchor="start" fill="#3030dd" font-weight="normal" >t5</text>
<circle cx="1072.5" cy="337" r="16.9" fill="none" stroke="#1010d8" stroke-width="3.5"/>
<text x="1082.50" y="310.20" font-size="11" text-anchor="start" fill="#3030dd" font-weight="normal" >t6</text>
<circle cx="1213.75" cy="337" r="16.9" fill="none" stroke="#1010d8" stroke-width="3.5"/>
<text x="1206.00" y="306.70" font-size="11" text-anchor="start" fill="#3030dd" font-weight="normal" >t7</text>
</g>
</svg>
</body>
</html>
